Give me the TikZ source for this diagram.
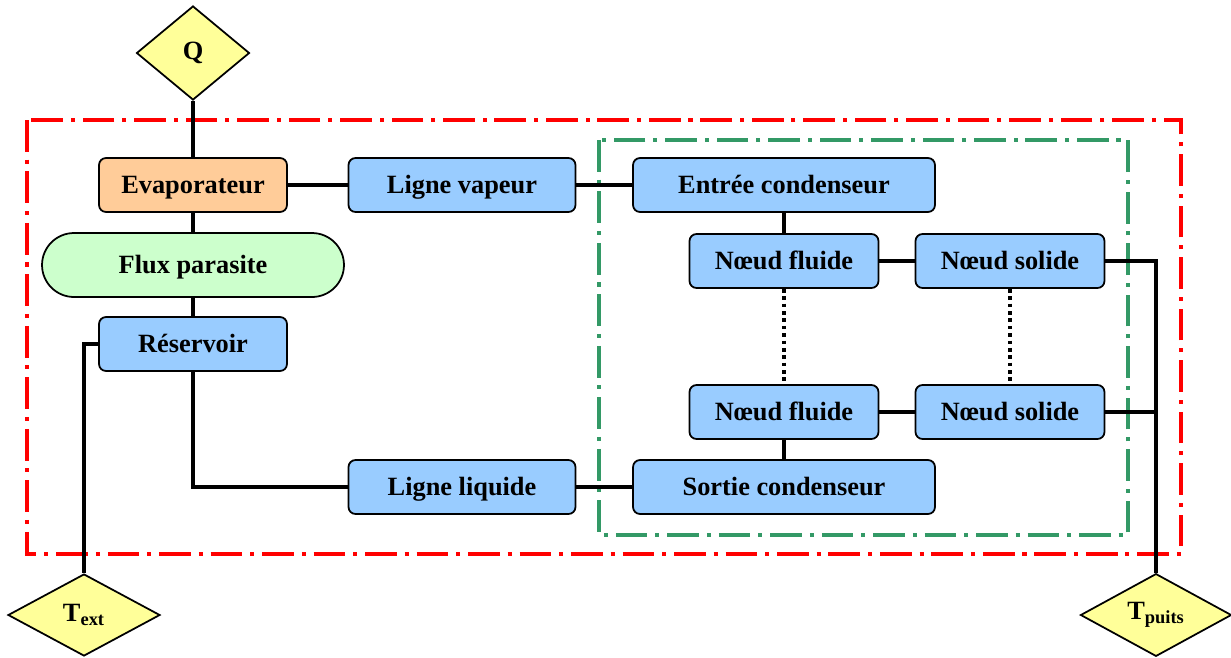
\documentclass[tikz,border=0pt]{standalone}
\usepackage{fontspec}
\setmainfont{Liberation Serif}
\usetikzlibrary{shapes.geometric}
\definecolor{boxblue}{HTML}{99CCFF}
\definecolor{boxorange}{HTML}{FFCC99}
\definecolor{boxgreen}{HTML}{CCFFCC}
\definecolor{diayellow}{HTML}{FFFF99}
\definecolor{framered}{HTML}{FF0000}
\definecolor{framegreen}{HTML}{339966}
\begin{document}
\begin{tikzpicture}[x=0.02cm,y=-0.02cm,
    font=\fontsize{15}{18}\selectfont\bfseries,
    bloc/.style={draw,line width=1pt,rounded corners=4pt,fill=boxblue,minimum height=1.08cm,inner sep=0pt,text depth=0.1ex},
    limite/.style={draw,diamond,line width=1pt,fill=diayellow,inner sep=0pt},
    lien/.style={line width=2.1pt},
    pointille/.style={line width=2.1pt,dash pattern=on 2.1pt off 2.1pt},
    cadre/.style={line width=2.3pt,dash pattern=on 18pt off 4.5pt on 2.3pt off 4.5pt}]
  \useasboundingbox (0,0) rectangle (1231,657);
  % Frames
  \draw[cadre,framered] (27,120) rectangle (1181,554);
  \draw[cadre,framegreen,line width=1.9pt] (599,140) rectangle (1128,535);
  % Boundary conditions
  \node[limite,minimum width=2.26cm,minimum height=1.88cm] (Q) at (193,53) {Q};
  \node[limite,minimum width=3.04cm,minimum height=1.64cm] (Text) at (84,615) {T\textsubscript{ext}};
  \node[limite,minimum width=3.02cm,minimum height=1.64cm] (Tpuits) at (1156,615) {T\textsubscript{puits}};
  % Evaporator side
  \node[bloc,fill=boxorange,minimum width=3.76cm] (evap) at (193,185) {Evaporateur};
  \node[draw,line width=1pt,fill=boxgreen,rounded corners=0.64cm,minimum width=6.04cm,minimum height=1.28cm,text depth=0.1ex] (flux) at (193,265) {Flux parasite};
  \node[bloc,minimum width=3.76cm] (res) at (193,344) {Réservoir};
  % Lines
  \node[bloc,minimum width=4.54cm] (vap) at (462,185) {Ligne vapeur};
  \node[bloc,minimum width=4.54cm] (liq) at (462,487) {Ligne liquide};
  % Condenser
  \node[bloc,minimum width=6.04cm] (entree) at (784,185) {Entrée condenseur};
  \node[bloc,minimum width=6.04cm] (sortie) at (784,487) {Sortie condenseur};
  \node[bloc,minimum width=3.78cm] (fl1) at (784,261) {Nœud fluide};
  \node[bloc,minimum width=3.78cm] (so1) at (1010,261) {Nœud solide};
  \node[bloc,minimum width=3.78cm] (fl2) at (784,412) {Nœud fluide};
  \node[bloc,minimum width=3.78cm] (so2) at (1010,412) {Nœud solide};
  % Links
  \coordinate (cext) at (84,344);
  \coordinate (cliq) at (193,487);
  \coordinate (cso1) at (1156,261);
  \coordinate (cso2) at (1156,412);
  \draw[lien] (Q.south) -- (evap.north);
  \draw[lien] (evap.south) -- (flux.north);
  \draw[lien] (flux.south) -- (res.north);
  \draw[lien] (evap.east) -- (vap.west);
  \draw[lien] (vap.east) -- (entree.west);
  \draw[lien] (res.west) -- (cext) -- (Text.north);
  \draw[lien] (res.south) -- (cliq) -- (liq.west);
  \draw[lien] (liq.east) -- (sortie.west);
  \draw[lien] (entree.south) -- (fl1.north);
  \draw[lien] (fl1.east) -- (so1.west);
  \draw[lien] (fl2.east) -- (so2.west);
  \draw[lien] (fl2.south) -- (sortie.north);
  \draw[lien] (so1.east) -- (cso1) -- (Tpuits.north);
  \draw[lien] (so2.east) -- (cso2);
  \draw[pointille] (fl1.south) -- (fl2.north);
  \draw[pointille] (so1.south) -- (so2.north);
\end{tikzpicture}
\end{document}
